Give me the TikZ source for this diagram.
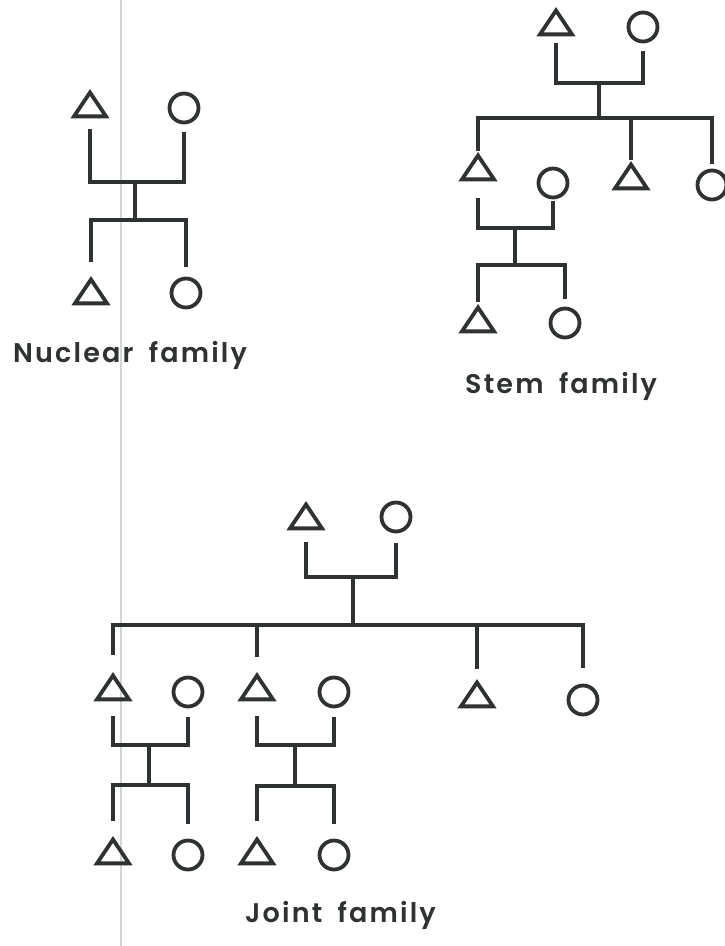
\documentclass[tikz,border=0pt]{standalone}
\usepackage{fontspec}
\setmainfont{Poppins}
\newfontfamily\captionfont{Poppins}[UprightFont=* SemiBold, LetterSpace=8, WordSpace=1.8]
\usetikzlibrary{shapes.geometric}
\definecolor{ink}{HTML}{2E3230}
\definecolor{gutter}{HTML}{D3D7D2}
\tikzset{
  male/.style={regular polygon, regular polygon sides=3, draw=ink, line width=3.8pt,
    minimum size=37pt, inner sep=0pt, yscale=0.86, anchor=south},
  female/.style={circle, draw=ink, line width=3.8pt, minimum size=29pt, inner sep=0pt},
  kin/.style={draw=ink, line width=4.2pt, line cap=butt, line join=miter},
  caption/.style={font=\captionfont\fontsize{27}{27}\selectfont, text=ink, anchor=base west, inner sep=0pt}
}
\begin{document}
\begin{tikzpicture}[x=1pt,y=-1pt]
\useasboundingbox (0,0) rectangle (724,946);
\fill[white] (0,0) rectangle (724,946);
\draw[gutter, line width=1.6pt] (121,0) -- (121,946);

% ---------- Nuclear family ----------
\node[male]   (nf) at (90,118) {};
\node[female] (nm) at (184,108) {};
\node[male]   (ns) at (91,305) {};
\node[female] (nd) at (186,293) {};
\coordinate (nj) at (135,182);
\coordinate (nk) at (135,220);
\draw[kin, shorten <=11pt] (nf.south) |- (nj);
\draw[kin, shorten <=8pt]  (nm.south) |- (nj);
\draw[kin] (nj) -- (nk);
\draw[kin, shorten >=14pt] (nk) -| (ns.north);
\draw[kin, shorten >=10pt] (nk) -| (nd.north);
\node[caption] (nlabel) at (13,362) {Nuclear family};

% ---------- Stem family ----------
\node[male]   (sf)  at (556,36) {};
\node[female] (sm)  at (643,27) {};
\node[male]   (s2f) at (478,181) {};
\node[female] (s2m) at (553,183) {};
\node[male]   (s2b) at (631,190) {};
\node[female] (s2s) at (712,185) {};
\node[male]   (s3f) at (478,333) {};
\node[female] (s3m) at (565,323) {};
\coordinate (sj)  at (599,83);
\coordinate (sk)  at (599,118);
\coordinate (s2j) at (515,228);
\coordinate (s2k) at (515,265);
\draw[kin, shorten <=7pt] (sf.south) |- (sj);
\draw[kin, shorten <=8pt] (sm.south) |- (sj);
\draw[kin] (sj) -- (sk);
\draw[kin, shorten >=1pt] (sk) -| (s2f.north);
\draw[kin, shorten >=1pt] (sk) -| (s2b.north);
\draw[kin, shorten >=5pt] (sk) -| (s2s.north);
\draw[kin, shorten <=17pt] (s2f.south) |- (s2j);
\draw[kin, shorten <=2pt]  (s2m.south) |- (s2j);
\draw[kin] (s2j) -- (s2k);
\draw[kin, shorten >=2pt] (s2k) -| (s3f.north);
\draw[kin, shorten >=8pt] (s2k) -| (s3m.north);
\node[caption] (slabel) at (465,393) {Stem family};

% ---------- Joint family ----------
\node[male]   (jf)  at (306,530) {};
\node[female] (jm)  at (396,517) {};
\node[male]   (a1)  at (113,701) {};
\node[female] (a1w) at (188,692) {};
\node[male]   (a2)  at (257,701) {};
\node[female] (a2w) at (334,692) {};
\node[male]   (a3)  at (477,708) {};
\node[female] (a4)  at (583,700) {};
\node[male]   (b1)  at (113,865) {};
\node[female] (b1d) at (188,855) {};
\node[male]   (b2)  at (257,865) {};
\node[female] (b2d) at (334,855) {};
\coordinate (jj) at (353,577);
\coordinate (jk) at (353,625);
\coordinate (c1j) at (149,745);
\coordinate (c1k) at (149,785);
\coordinate (c2j) at (295,745);
\coordinate (c2k) at (295,786);
\draw[kin, shorten <=12pt] (jf.south) |- (jj);
\draw[kin, shorten <=10pt] (jm.south) |- (jj);
\draw[kin] (jj) -- (jk);
\draw[kin, shorten >=17pt] (jk) -| (a1.north);
\draw[kin, shorten >=15pt] (jk) -| (a2.north);
\draw[kin, shorten >=10pt] (jk) -| (a3.north);
\draw[kin, shorten >=16pt] (jk) -| (a4.north);
\draw[kin, shorten <=15pt] (a1.south) |- (c1j);
\draw[kin, shorten <=9pt]  (a1w.south) |- (c1j);
\draw[kin] (c1j) -- (c1k);
\draw[kin, shorten >=15pt] (c1k) -| (b1.north);
\draw[kin, shorten >=15pt] (c1k) -| (b1d.north);
\draw[kin, shorten <=15pt] (a2.south) |- (c2j);
\draw[kin, shorten <=9pt]  (a2w.south) |- (c2j);
\draw[kin] (c2j) -- (c2k);
\draw[kin, shorten >=15pt] (c2k) -| (b2.north);
\draw[kin, shorten >=15pt] (c2k) -| (b2d.north);
\node[caption] (jlabel) at (245,922) {Joint family};
\end{tikzpicture}
\end{document}
